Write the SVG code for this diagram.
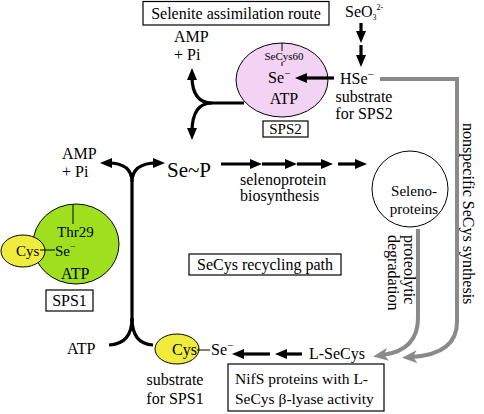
<svg xmlns="http://www.w3.org/2000/svg" width="484" height="414" viewBox="0 0 484 414" font-family="'Liberation Serif', 'DejaVu Serif', serif" font-size="16">
<defs>
<style>
text{font-family:'Liberation Serif','DejaVu Serif',serif;fill:#000}
.c{text-anchor:middle}
.sm{font-size:11px}
.box{fill:#fff;stroke:#000;stroke-width:1.2}
.ln{fill:none;stroke:#000;stroke-width:3.2}
.thin{fill:none;stroke:#000;stroke-width:1}
.gray{fill:none;stroke:#8a8a8a;stroke-width:4}
</style>
<marker id="ah" viewBox="0 0 12 10" refX="4" refY="5" markerWidth="12" markerHeight="10" markerUnits="userSpaceOnUse" orient="auto">
<path d="M0,0 L12,5 L0,10 z" fill="#000"/>
</marker>
<marker id="gh" viewBox="0 0 15 13" refX="5" refY="6.5" markerWidth="15" markerHeight="13" markerUnits="userSpaceOnUse" orient="auto">
<path d="M0,0 L15,6.5 L0,13 L4,6.5 z" fill="#8a8a8a"/>
</marker>
</defs>
<rect width="484" height="414" fill="#fff"/>

<g id="title-selenite">
<rect class="box" x="143" y="1.5" width="186" height="23.5"/>
<text class="c" x="236" y="19">Selenite assimilation route</text>
</g>

<g id="selenite">
<text x="345" y="17">SeO<tspan font-size="8" dy="3">3</tspan><tspan font-size="8" dy="-10">2-</tspan></text>
</g>

<g id="hse">
<text x="340" y="84">HSe<tspan font-size="11" dy="-6">−</tspan></text>
<text class="c" x="364" y="102">substrate</text>
<text class="c" x="364" y="119">for SPS2</text>
</g>

<g id="sps2">
<ellipse cx="282" cy="80" rx="46" ry="37" fill="#f3d3f3" stroke="#000" stroke-width="1"/>
<line class="thin" x1="282" y1="43" x2="282" y2="51"/>
<text class="c sm" x="284" y="60">SeCys60</text>
<line class="thin" x1="282" y1="62" x2="282" y2="66"/>
<text x="268" y="83">Se<tspan font-size="11" dy="-6">−</tspan></text>
<text class="c" x="284" y="104">ATP</text>
<rect class="box" x="263" y="121" width="45" height="16"/>
<text class="c" x="285.5" y="134" font-size="15">SPS2</text>
</g>

<g id="amp-top">
<text x="174" y="42">AMP</text>
<text x="174" y="60">+ Pi</text>
</g>

<g id="amp-left">
<text x="62" y="159">AMP</text>
<text x="62" y="177">+ Pi</text>
</g>

<g id="sep">
<text x="167" y="177" font-size="21">Se~P</text>
</g>

<g id="biosynth-label">
<text x="240" y="185">selenoprotein</text>
<text x="240" y="201">biosynthesis</text>
</g>

<g id="selenoproteins">
<circle cx="410" cy="189" r="38" fill="#fff" stroke="#000" stroke-width="1"/>
<text class="c" x="414" y="196" font-size="15">Seleno-</text>
<text class="c" x="414" y="214" font-size="15">proteins</text>
</g>

<g id="sps1">
<ellipse cx="76" cy="244" rx="43" ry="40" fill="#9ee01e" stroke="#000" stroke-width="1"/>
<line class="thin" x1="73" y1="205" x2="73" y2="224"/>
<text x="57" y="237" font-size="15">Thr29</text>
<ellipse cx="23" cy="251" rx="22" ry="16" fill="#f0ec3c" stroke="#000" stroke-width="1"/>
<text x="16" y="256" font-size="15">Cys</text>
<line class="thin" x1="40" y1="250" x2="55" y2="250"/>
<text x="55" y="256" font-size="15">Se<tspan font-size="10" dy="-6">−</tspan></text>
<text x="61" y="279">ATP</text>
<rect class="box" x="46" y="290" width="47" height="21"/>
<text class="c" x="69.5" y="306">SPS1</text>
</g>

<g id="recycling-label">
<rect class="box" x="189" y="254" width="152" height="21"/>
<text class="c" x="265" y="270">SeCys recycling path</text>
</g>

<g id="atp-left">
<text x="67" y="354">ATP</text>
</g>

<g id="cys-se">
<ellipse cx="177" cy="349" rx="22" ry="15" fill="#f0ec3c" stroke="#000" stroke-width="1"/>
<text x="172" y="355">Cys</text>
<line class="thin" x1="197" y1="350" x2="210" y2="350"/>
<text x="211" y="355">Se<tspan font-size="11" dy="-6">−</tspan></text>
<text class="c" x="175" y="385">substrate</text>
<text class="c" x="175" y="404">for SPS1</text>
</g>

<g id="l-secys">
<text x="309" y="359">L-SeCys</text>
</g>

<g id="nifs">
<rect class="box" x="228" y="364" width="156" height="47"/>
<text x="235" y="384" font-size="15.5">NifS proteins with L-</text>
<text x="235" y="404" font-size="15.5">SeCys β-lyase activity</text>
</g>

<g id="rot-labels">
<text x="463" y="123" transform="rotate(90 463 123)">nonspecific SeCys synthesis</text>
<text x="404" y="235" transform="rotate(90 404 235)">proteolytic</text>
<text x="388" y="235" transform="rotate(90 388 235)">degradation</text>
</g>

<g id="connectors">
<path class="ln" d="M361,23 V35" marker-end="url(#ah)"/>
<path class="ln" d="M361,45 V59" marker-end="url(#ah)"/>
<path class="ln" d="M334,78 H303" marker-end="url(#ah)"/>
<path class="ln" d="M244,103 H212 Q192,103 192,76" marker-end="url(#ah)"/>
<path class="ln" d="M212,103 Q192,103 192,132" marker-end="url(#ah)"/>
<path class="ln" d="M132,322 V182 Q132,163 108,163" marker-end="url(#ah)"/>
<path class="ln" d="M132,182 Q132,163 157,163" marker-end="url(#ah)"/>
<path class="ln" d="M132,318 Q132,344 109,345"/>
<path class="ln" d="M132,318 Q132,344 153,345"/>
<path class="ln" d="M221,164 H254" marker-end="url(#ah)"/>
<path class="ln" d="M262,164 H289" marker-end="url(#ah)"/>
<path class="ln" d="M297,164 H325" marker-end="url(#ah)"/>
<path class="ln" d="M338,164 H359" marker-end="url(#ah)"/>
<path class="ln" d="M302,354 H283" marker-end="url(#ah)"/>
<path class="ln" d="M270,354 H240" marker-end="url(#ah)"/>
<path class="gray" d="M380,79 H457 V322 Q457,354 412,357" marker-end="url(#gh)"/>
<path class="gray" d="M418,229 V318 Q418,350 383,355" marker-end="url(#gh)"/>
</g>
</svg>
